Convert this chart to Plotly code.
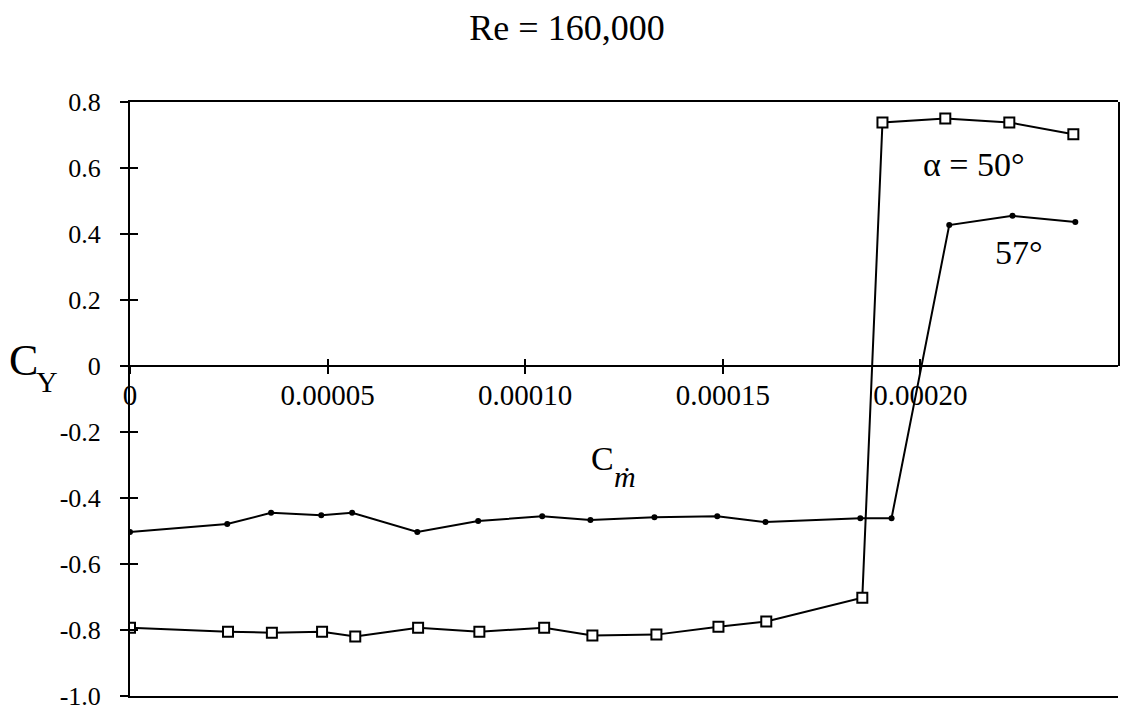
import plotly.graph_objects as go

# Mass-flow coefficient (C_mdot) and side-force coefficient (C_Y), Re = 160,000
cm_alpha50 = [0.0, 0.0000248, 0.0000359, 0.0000486, 0.0000570, 0.0000729, 0.0000884,
              0.0001048, 0.0001170, 0.0001332, 0.0001489, 0.0001610, 0.0001853,
              0.0001904, 0.0002063, 0.0002225, 0.0002387]
cy_alpha50 = [-0.793, -0.805, -0.808, -0.805, -0.820, -0.793, -0.805, -0.793, -0.817,
              -0.814, -0.790, -0.774, -0.702, 0.738, 0.750, 0.738, 0.702]

cm_alpha57 = [0.0, 0.0000246, 0.0000357, 0.0000484, 0.0000562, 0.0000727, 0.0000881,
              0.0001043, 0.0001165, 0.0001327, 0.0001486, 0.0001608, 0.0001848,
              0.0001927, 0.0002073, 0.0002233, 0.0002392]
cy_alpha57 = [-0.503, -0.479, -0.445, -0.452, -0.445, -0.503, -0.470, -0.455, -0.467,
              -0.458, -0.455, -0.473, -0.461, -0.461, 0.427, 0.455, 0.436]

x_ticks = [0.0, 0.00005, 0.00010, 0.00015, 0.00020]
x_tick_labels = ["0", "0.00005", "0.00010", "0.00015", "0.00020"]
y_ticks = [0.8, 0.6, 0.4, 0.2, 0.0, -0.2, -0.4, -0.6, -0.8, -1.0]
y_tick_labels = ["0.8", "0.6", "0.4", "0.2", "0", "-0.2", "-0.4", "-0.6", "-0.8", "-1.0"]

x_range = [0.0, 0.00025]
y_range = [-1.0, 0.8]
zero_pos = (0 - y_range[0]) / (y_range[1] - y_range[0])

SERIF = "Liberation Serif, Times New Roman, serif"

fig = go.Figure()

fig.add_trace(go.Scatter(
    x=cm_alpha57, y=cy_alpha57, mode="lines+markers",
    line=dict(color="black", width=2),
    marker=dict(symbol="circle", size=6, color="black"),
    showlegend=False, hoverinfo="skip",
))
fig.add_trace(go.Scatter(
    x=cm_alpha50, y=cy_alpha50, mode="lines+markers",
    line=dict(color="black", width=2),
    marker=dict(symbol="square", size=10, color="white",
                line=dict(color="black", width=2)),
    showlegend=False, hoverinfo="skip",
))

# helper traces so the auxiliary axes (crossing ticks, frame) get drawn
for xa, ya in [("x2", "y"), ("x3", "y"), ("x", "y2"), ("x", "y3")]:
    fig.add_trace(go.Scatter(x=[None], y=[None], mode="none", xaxis=xa, yaxis=ya,
                             showlegend=False, hoverinfo="skip"))

axis_common = dict(showgrid=False, zeroline=False, linecolor="black",
                   tickcolor="black", automargin=False)

fig.update_layout(
    width=1122, height=712,
    margin=dict(l=130, r=4, t=102, b=16, autoexpand=False),
    paper_bgcolor="white", plot_bgcolor="rgba(0,0,0,0)",
    title=dict(text="Re = 160,000", x=567 / 1122, xref="container",
               y=1 - 27 / 712, yref="container", xanchor="center", yanchor="middle",
               font=dict(family=SERIF, size=36, color="black")),
    xaxis=dict(range=x_range, anchor="free", position=zero_pos,
               showline=True, linewidth=2, ticks="outside", ticklen=7, tickwidth=2,
               tickvals=x_ticks, ticktext=x_tick_labels,
               tickfont=dict(family=SERIF, size=29, color="black"),
               ticklabelstandoff=-4, **axis_common),
    xaxis2=dict(range=x_range, overlaying="x", matches="x", anchor="free",
                position=zero_pos, showline=False, ticks="inside", ticklen=7,
                tickwidth=2, tickvals=x_ticks, showticklabels=False, **axis_common),
    xaxis3=dict(range=x_range, overlaying="x", matches="x", anchor="y", side="bottom",
                showline=True, linewidth=2, mirror=True, ticks="",
                showticklabels=False, **axis_common),
    yaxis=dict(range=y_range, anchor="x", showline=True, linewidth=2,
               ticks="outside", ticklen=8, tickwidth=2,
               tickmode="array", tickvals=y_ticks, ticktext=y_tick_labels,
               tickfont=dict(family=SERIF, size=26, color="black"),
               ticklabelstandoff=14, ticklabeloverflow="allow", **axis_common),
    yaxis2=dict(range=y_range, overlaying="y", anchor="x",
                showline=False, ticks="inside", ticklen=8, tickwidth=2,
                tickvals=y_ticks, showticklabels=False, **axis_common),
    yaxis3=dict(range=[0, y_range[1]], domain=[zero_pos, 1], anchor="x", side="right",
                showline=True, linewidth=2, ticks="", showticklabels=False,
                **axis_common),
)

annotations = [
    dict(text="C", x=-0.108, y=0.564, font=dict(family=SERIF, size=44)),
    dict(text="Y", x=-0.084, y=0.530, font=dict(family=SERIF, size=30)),
    dict(text="C", x=0.478, y=0.399, font=dict(family=SERIF, size=34)),
    dict(text="<i>ṁ</i>", x=0.501, y=0.370, font=dict(family=SERIF, size=30)),
    dict(text="α = 50°", x=0.854, y=0.894, font=dict(family=SERIF, size=34)),
    dict(text="57°", x=0.900, y=0.746, font=dict(family=SERIF, size=34)),
]
for a in annotations:
    a["font"]["color"] = "black"
    fig.add_annotation(xref="paper", yref="paper", showarrow=False,
                       xanchor="center", yanchor="middle", **a)

fig.write_html("out.html")
